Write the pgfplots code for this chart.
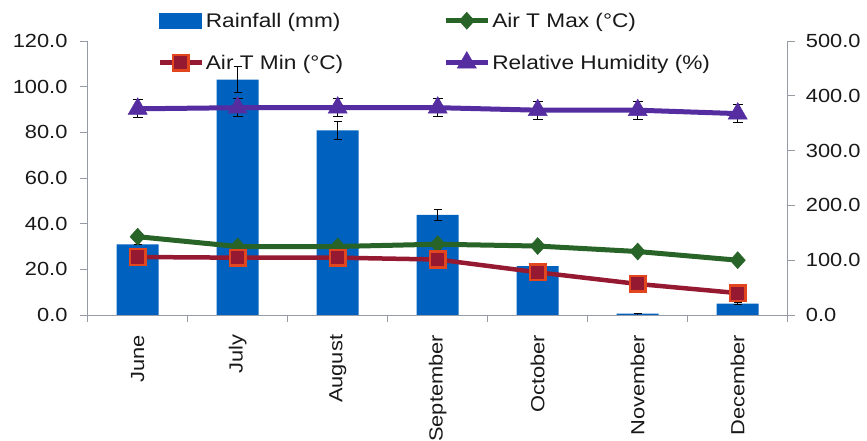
\documentclass[border=0pt]{standalone}
\usepackage{pgfplots}
\pgfplotsset{compat=1.18}
\usepackage{fontspec}
\setmainfont{Liberation Sans}[FakeStretch=1.15]
\definecolor{barblue}{RGB}{0,98,190}
\definecolor{tmaxgreen}{RGB}{40,100,40}
\definecolor{tminred}{RGB}{150,25,50}
\definecolor{tminedge}{RGB}{225,70,30}
\definecolor{rhpurple}{RGB}{85,45,160}
\definecolor{axgray}{RGB}{150,155,165}
\definecolor{txt}{RGB}{25,25,25}
\newcommand{\fnt}{\fontsize{19bp}{22bp}\selectfont}
\newcommand{\lfnt}{\fontsize{19.7bp}{23bp}\selectfont}
\pgfplotsset{
  common/.style={
    scale only axis, width=700bp, height=274bp,
    xmin=0.5, xmax=7.5,
    axis line style={axgray, line width=0.8bp},
    tick align=outside, major tick length=7.7bp, minor tick length=7bp,
    every tick label/.append style={font=\fnt, text=txt},
    yticklabel style={/pgf/number format/.cd, fixed, fixed zerofill, precision=1, assume math mode=true},
    ytick style={axgray, line width=0.8bp},
  },
  linelegend/.style={legend image code/.code={%
      \draw[##1, mark=none] plot coordinates {(0bp,0bp)(42bp,0bp)};
      \draw[##1, only marks] plot coordinates {(21bp,0bp)};}},
}
\begin{document}
\begin{tikzpicture}
\path[use as bounding box] (-87.7bp,-126bp) rectangle (779.3bp,315bp);
\clip (-87.7bp,-126bp) rectangle (779.3bp,315bp);
% Rainfall bars on the right axis
\begin{axis}[common,
  ymin=0, ymax=500,
  axis x line=none, axis y line*=right,
  ytick={0,100,...,500},
  yticklabel shift=7bp,
  ybar, bar width=42bp,
]
\addplot[fill=barblue, draw=none,
  error bars/.cd, y dir=both, y explicit,
  error bar style={black, line width=1bp},
  error mark options={rotate=90, mark size=4bp, black, line width=1bp}]
coordinates {
 (1,129) +- (0,0)
 (2,429.5) +- (0,23.7)
 (3,336.7) +- (0,17)
 (4,182.8) +- (0,10)
 (5,89) +- (0,1)
 (6,2.4) +- (0,0.5)
 (7,20.7) +- (0,1.2)
};
\end{axis}
% Temperatures and humidity on the left axis
\begin{axis}[common,
  ymin=0, ymax=120,
  axis x line*=bottom, axis y line*=left,
  ytick={0,20,...,120},
  yticklabel shift=9bp,
  xtick={1,...,7},
  xticklabels={June,July,August,September,October,November,December},
  minor xtick={0.5,1.5,...,7.5},
  major x tick style={draw=none},
  minor x tick style={axgray, line width=0.8bp},
  xticklabel style={rotate=90, anchor=east, inner sep=0pt},
  xticklabel shift=12bp,
  legend columns=2,
  legend cell align=left,
  legend style={at={(0.095,1.118)}, anchor=north west, draw=none, fill=none,
    font=\lfnt, text=txt, row sep=21bp,
    /tikz/every even column/.append style={column sep=98bp}},
]
\addlegendimage{legend image code/.code={\fill[barblue] (0bp,-7.5bp) rectangle (42bp,7.5bp);}}
\addlegendentry{Rainfall (mm)}
\addplot[linelegend, tmaxgreen, line width=5bp, mark=diamond*, mark size=8.5bp,
  mark options={fill=tmaxgreen, draw=tmaxgreen, line width=0.5bp, xscale=1.2}]
coordinates {(1,34.3)(2,30.0)(3,30.0)(4,31.0)(5,30.2)(6,27.8)(7,24.0)};
\addlegendentry{Air T Max (°C)}
\addplot[linelegend, tminred, line width=4.5bp, mark=square*, mark size=7.8bp,
  mark options={fill=tminred, draw=tminedge, line width=2.5bp}]
coordinates {(1,25.4)(2,25.1)(3,25.1)(4,24.3)(5,18.7)(6,13.6)(7,9.6)};
\addlegendentry{Air T Min (°C)}
\addplot[linelegend, rhpurple, line width=5bp, mark=triangle*, mark size=11bp,
  mark options={fill=rhpurple, draw=rhpurple, line width=0.5bp},
  error bars/.cd, y dir=both, y explicit,
  error bar style={black, line width=1bp},
  error mark options={rotate=90, mark size=5bp, black, line width=1bp}]
coordinates {
 (1,90.3) +- (0,4)
 (2,90.8) +- (0,4)
 (3,90.8) +- (0,4)
 (4,90.8) +- (0,4)
 (5,89.7) +- (0,4)
 (6,89.7) +- (0,4)
 (7,88.2) +- (0,4)
};
\addlegendentry{Relative Humidity (\%)}
\end{axis}
\end{tikzpicture}
\end{document}
